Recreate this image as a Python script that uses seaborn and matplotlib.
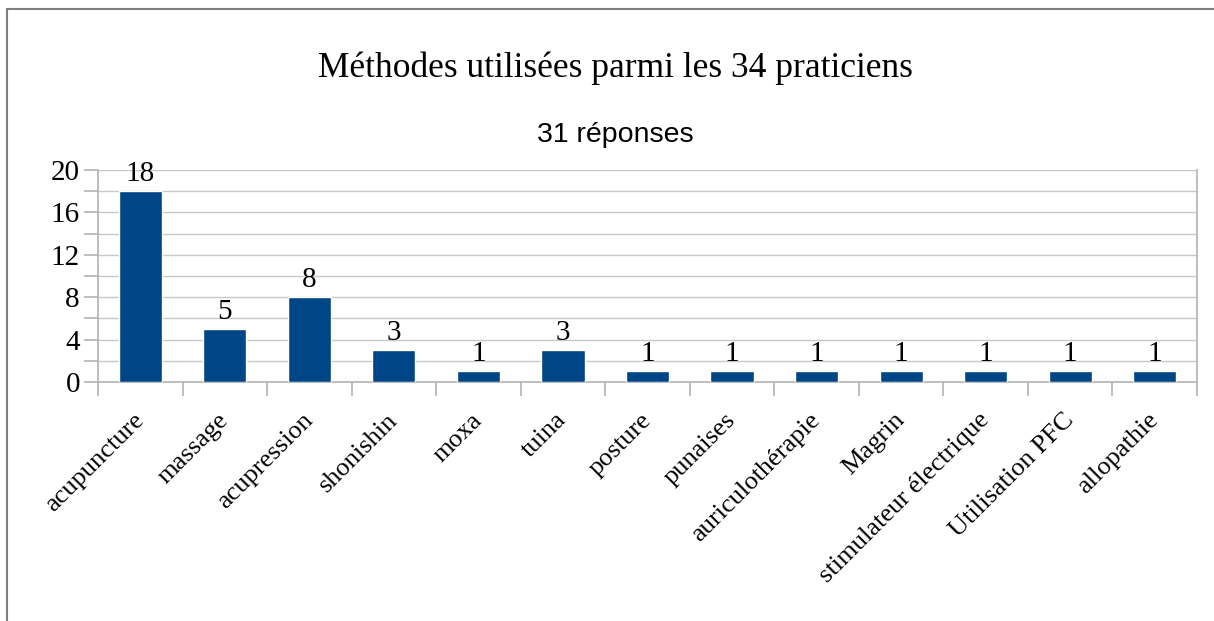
import matplotlib
matplotlib.use("Agg")
import matplotlib.pyplot as plt
import seaborn as sns
import pandas as pd
from matplotlib.lines import Line2D
from matplotlib.ticker import MultipleLocator

categories = ["acupuncture", "massage", "acupression", "shonishin", "moxa", "tuina",
              "posture", "punaises", "auriculothérapie", "Magrin",
              "stimulateur électrique", "Utilisation PFC", "allopathie"]
values = [18, 5, 8, 3, 1, 3, 1, 1, 1, 1, 1, 1, 1]
yticks = [0, 4, 8, 12, 16, 20]
title = "Méthodes utilisées parmi les 34 praticiens"
subtitle = "31 réponses"

sns.set_theme(style="white")
plt.rcParams['font.family'] = ['Liberation Serif', 'DejaVu Serif']
plt.rcParams['text.color'] = 'black'
plt.rcParams['xtick.labelcolor'] = 'black'
plt.rcParams['ytick.labelcolor'] = 'black'

df = pd.DataFrame({"cat": categories, "val": values})

fig = plt.figure(figsize=(12.14, 6.21), dpi=100)
ax = fig.add_axes([98/1214, 1-382/621, (1197-98)/1214, (382-170)/621])

sns.barplot(data=df, x="cat", y="val", color="#004586", width=0.51,
            saturation=1, ax=ax, zorder=3)

ax.set_ylim(0, 20)
ax.set_xlim(-0.5, len(categories) - 0.5)
ax.set_yticks(yticks)
ax.yaxis.set_minor_locator(MultipleLocator(2))
ax.grid(True, which="both", axis="y", color="#c8c8c8", linewidth=1, zorder=0)
ax.set_axisbelow(True)
ax.set_xlabel("")
ax.set_ylabel("")

ax.spines["top"].set_visible(False)
for s in ["left", "right", "bottom"]:
    ax.spines[s].set_color("#b3b3b3")
    ax.spines[s].set_linewidth(1.2)

ax.tick_params(axis="y", which="both", left=True, length=10, color="#b3b3b3",
               width=1.2, labelsize=21, pad=3, labelcolor="black")
ax.set_xticks([i for i in range(len(categories))])
ax.set_xticks([i - 0.5 for i in range(len(categories) + 1)], minor=True)
ax.tick_params(axis="x", which="minor", bottom=True, length=10, color="#b3b3b3", width=1.2)
ax.tick_params(axis="x", which="major", bottom=False, length=0, pad=25, labelcolor="black")
ax.set_xticklabels(categories, rotation=45, ha="right", va="center",
                   rotation_mode="anchor", fontsize=19, color="black")

for i, v in enumerate(values):
    ax.annotate(str(v), (i, v), xytext=(0, 3), textcoords="offset points",
                ha="center", va="bottom", fontsize=21, color="black")

fig.text(0.5 + 8/1214, 1 - 68/621, title, ha="center", va="center", fontsize=25.5,
         color="black", family=['Liberation Serif', 'DejaVu Serif'])
fig.text(0.5 + 8/1214, 1 - 135/621, subtitle, ha="center", va="center", fontsize=20.5,
         color="black", family=['Liberation Sans', 'DejaVu Sans'])

fig.add_artist(Line2D([7/1214, 1], [1 - 9/621, 1 - 9/621], transform=fig.transFigure,
                      color="#7f7f7f", linewidth=1.5))
fig.add_artist(Line2D([7/1214, 7/1214], [0, 1 - 9/621], transform=fig.transFigure,
                      color="#7f7f7f", linewidth=1.5))

fig.savefig("out.png", dpi=100, facecolor="white")
